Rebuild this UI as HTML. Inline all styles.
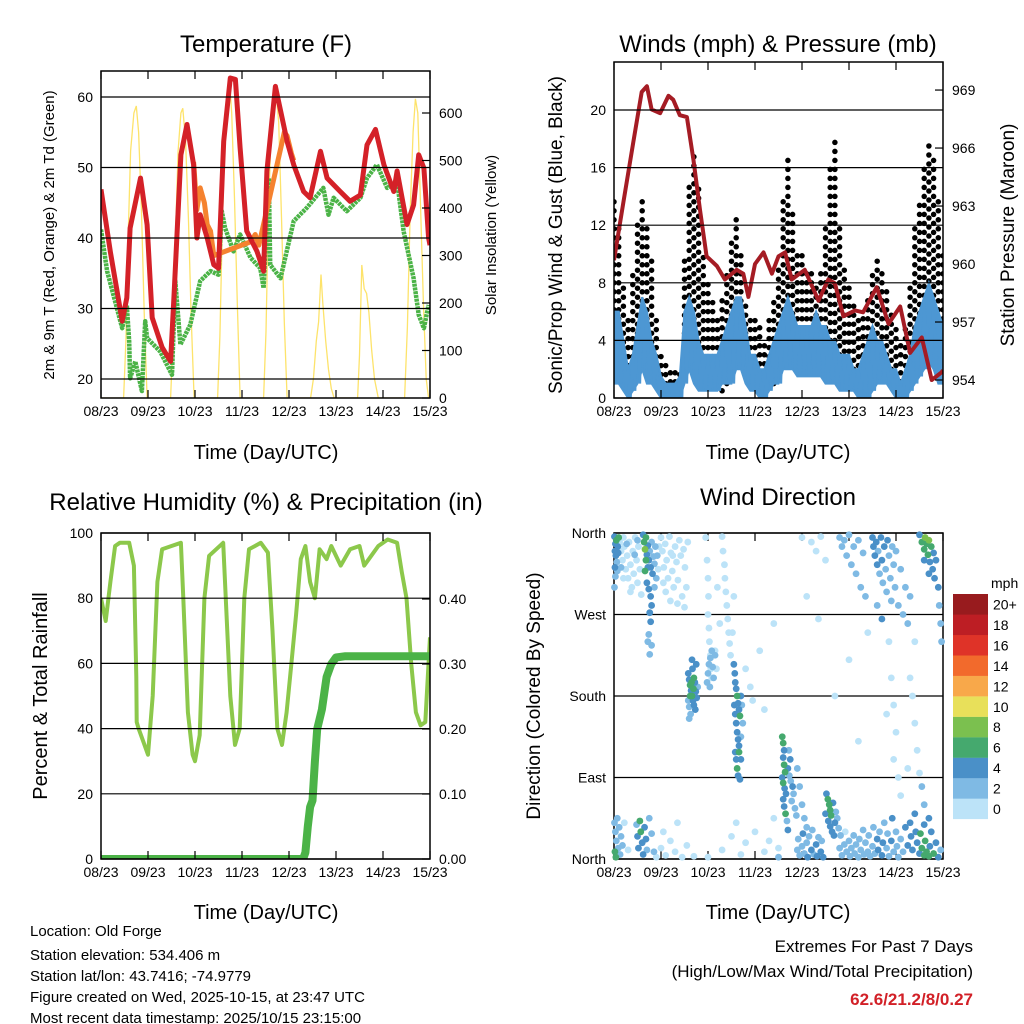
<!DOCTYPE html>
<html><head><meta charset="utf-8"><style>
html,body{margin:0;padding:0;background:#fff;}
svg{display:block;font-family:"Liberation Sans",sans-serif;}
</style></head><body>
<svg id="s" width="1024" height="1024" viewBox="0 0 1024 1024" xmlns="http://www.w3.org/2000/svg">
<defs>
<clipPath id="c1"><rect x="101" y="71" width="329" height="327"/></clipPath>
<clipPath id="c2"><rect x="614" y="62" width="329" height="336"/></clipPath>
<clipPath id="c3"><rect x="101" y="533" width="329" height="326"/></clipPath>
<clipPath id="c4"><rect x="611" y="527" width="335" height="338"/></clipPath>
</defs>
<text x="266" y="52" font-size="24" text-anchor="middle">Temperature (F)</text>
<text x="778" y="52" font-size="24" text-anchor="middle">Winds (mph) &amp; Pressure (mb)</text>
<text x="266" y="510" font-size="24" text-anchor="middle">Relative Humidity (%) &amp; Precipitation (in)</text>
<text x="778" y="505" font-size="24" text-anchor="middle">Wind Direction</text>
<text transform="translate(54,235) rotate(-90)" font-size="15" text-anchor="middle">2m &amp; 9m T (Red, Orange) &amp; 2m Td (Green)</text>
<text transform="translate(496,235) rotate(-90)" font-size="15" text-anchor="middle">Solar Insolation (Yellow)</text>
<text transform="translate(562,235) rotate(-90)" font-size="19" text-anchor="middle">Sonic/Prop Wind &amp; Gust (Blue, Black)</text>
<text transform="translate(1014,235) rotate(-90)" font-size="19" text-anchor="middle">Station Pressure (Maroon)</text>
<text transform="translate(47,696) rotate(-90)" font-size="20" text-anchor="middle">Percent &amp; Total Rainfall</text>
<text transform="translate(540,696) rotate(-90)" font-size="19" text-anchor="middle">Direction (Colored By Speed)</text>
<text x="266" y="459" font-size="20" text-anchor="middle">Time (Day/UTC)</text>
<text x="778" y="459" font-size="20" text-anchor="middle">Time (Day/UTC)</text>
<text x="266" y="919" font-size="20" text-anchor="middle">Time (Day/UTC)</text>
<text x="778" y="919" font-size="20" text-anchor="middle">Time (Day/UTC)</text>
<g font-size="15">
<text x="30" y="936">Location: Old Forge</text>
<text x="30" y="960">Station elevation: 534.406 m</text>
<text x="30" y="981">Station lat/lon: 43.7416; -74.9779</text>
<text x="30" y="1002">Figure created on Wed, 2025-10-15, at 23:47 UTC</text>
<text x="30" y="1023">Most recent data timestamp: 2025/10/15 23:15:00</text>
</g>
<g font-size="17" text-anchor="end">
<text x="973" y="952">Extremes For Past 7 Days</text>
<text x="973" y="977">(High/Low/Max Wind/Total Precipitation)</text>
<text x="973" y="1005" fill="#d22027" font-weight="bold">62.6/21.2/8/0.27</text>
</g>
<g id="root"></g>
</svg>
<script>
// ---------- data ----------
const dayLabels=["08/23","09/23","10/23","11/23","12/23","13/23","14/23","15/23"];
const tempTicks=[20,30,40,50,60];
const solarTicks=[0,100,200,300,400,500,600];
const windTicks=[0,4,8,12,16,20];
const pressTicks=[954,957,960,963,966,969];
const rhTicks=[0,20,40,60,80,100];
const rainTicks=[0.00,0.10,0.20,0.30,0.40];
const dirTicks=["North","East","South","West","North"];
const speedBins=["0","2","4","6","8","10","12","14","16","18","20+"];
const speedColors=["#bce3f8","#7fbae4","#4a90c8","#45a96e","#7bc04f","#e8e05a","#f8a84a","#f26a2c","#df3328","#bd1e24","#981b1e"];

const redT=[0,0.2,0.45,0.55,0.6,0.62,0.84,0.98,1.09,1.3,1.48,1.55,1.7,1.83,1.97,2.04,2.11,2.26,2.4,2.5,2.61,2.75,2.86,2.96,3.1,3.32,3.46,3.53,3.71,3.96,4.1,4.31,4.45,4.67,4.81,5.09,5.3,5.52,5.66,5.84,6.02,6.23,6.3,6.51,6.65,6.76,6.87,6.97,7.0];
const redV=[46.9,38,28.2,31.5,38.6,41.4,48.5,41.9,28.7,24.5,22.5,31.5,51.8,56.1,50.4,40,43.3,40,36.2,35.7,53.7,62.7,62.5,52.8,41,38.1,35.3,49.5,61.5,53.7,50.4,46.6,45.7,52.3,48.5,46.6,45.2,46.1,53.2,55.4,50.4,46.6,49.5,41.9,44.7,51.8,49.9,40,39];
const orangeT=[1.97,2.04,2.11,2.2,2.26,2.33,2.4,3.2,3.28,3.36,3.9,3.96,4.05,4.1];
const orangeV=[50.8,44,47.1,45,41.9,41,37.5,39.5,40.5,39,55,54.5,52,51];
const greenT=[0,0.13,0.45,0.55,0.6,0.62,0.73,0.87,0.94,0.98,1.26,1.51,1.58,1.69,1.9,2.11,2.33,2.5,2.57,2.64,2.82,2.96,3.18,3.39,3.46,3.57,3.6,3.82,4.1,4.38,4.73,4.84,4.95,5.23,5.52,5.66,5.87,6.09,6.3,6.44,6.65,6.76,6.87,6.97];
const greenV=[41.2,35.3,27.2,30.5,25.3,20.1,22.5,18.3,28.2,25.8,23.9,20.6,33.9,24.9,27.7,33.9,35.3,34.8,43.8,41.4,38.1,40.5,37.2,35.7,32.9,48.5,36.2,34.3,42.4,44.3,47.1,43.3,45.7,43.8,45.7,48.5,50.4,47.1,48,40.9,34.3,29.1,27.2,30.5];
const solarT=[0,0.48,0.53,0.58,0.63,0.7,0.75,0.8,0.86,0.92,0.98,1.48,1.53,1.58,1.64,1.7,1.74,1.8,1.86,1.92,1.98,2.48,2.53,2.58,2.64,2.7,2.74,2.78,2.84,2.9,2.96,3.46,3.51,3.56,3.62,3.68,3.72,3.78,3.84,3.9,3.96,4.46,4.52,4.58,4.63,4.68,4.72,4.78,4.84,4.9,4.96,5.46,5.5,5.55,5.6,5.65,5.7,5.76,5.82,5.9,6.46,6.52,6.58,6.64,6.69,6.74,6.8,6.86,6.92,6.97];
const solarV=[0,0,120,350,520,600,615,560,400,180,0,0,120,330,520,600,610,540,380,170,0,0,130,360,560,640,660,600,420,200,0,0,140,380,560,640,650,580,380,160,0,0,40,120,160,260,200,120,60,20,0,0,90,280,230,220,180,100,40,0,0,150,400,560,630,600,400,200,40,0];

const pressT=[0,0.2,0.41,0.59,0.7,0.8,0.98,1.16,1.26,1.4,1.55,1.69,1.83,1.97,2.19,2.36,2.61,2.75,2.86,3.0,3.18,3.36,3.5,3.64,3.78,4.06,4.35,4.56,4.7,4.88,5.13,5.3,5.59,5.84,6.09,6.3,6.55,6.76,6.97,7.0];
const pressV=[960.2,963.2,966.3,968.9,969.2,968,967.8,968.7,968.5,967.7,967.6,965.4,962.8,960.4,959.9,959.2,959.7,959.5,958.3,960,960.6,959.5,960.4,960.6,959.2,959.7,958.1,959.2,959,957.3,957.6,957.5,958.8,956.9,957.8,955.4,956.2,954,954.4,954.5];
// wind & gust ranges sampled every 0.1 day
const windLo=[1,1,0.5,0,0.5,1,2,1,1,0.5, 0,0,0,0,0,1,2,1,0.5,0.5, 0.5,0.5,0.5,1,1,1,2,2,1,0.5, 0.5,0,0,0.5,1,1,2,2,2,1.5, 1.5,1.5,1.5,1.5,1.5,1,1,1,0.5,0.5, 0.5,0.5,0,0,0,0.5,1,1,1,0.5, 0,0,0,0.5,1,1.5,2,2.5,2,1, 1];
const windHi=[6,6,4,2,3,5,7,6,4,3, 1.5,1,1,1,1.5,6,7,6,4,3, 3,3,3,4,5,6,7,7,5,3, 3,2,2,3,4,5,6,7,6,5, 5,5,5,6,5,5,4,4,3,3, 3,2,2,3,4,5,4,4,3,2, 2,1,2,3,5,6,7,8,7,6, 5];
const gustLo=[3,3,2,1,1,2,3,3,2,1, 1,1,0.5,0.5,1,2,4,3,2,1, 1,1,1,0.5,1,2,3,3,2,1, 1,0.5,0.5,1,1,2,3,4,4,3, 3,3,3,2,3,3,4,4,3,2, 2,2,1,0.5,0.5,1,2,3,3,2, 1,0.5,1,2,3,4,4,5,4,3, 3];
const gustHi=[14,12,8,6,9,12,14,12,10,6, 3,2.5,2,2,2,10,15,17,15,10, 8,7,6,7,9,11,13,10,7,6, 6,5,4,6,7,9,14,17,13,10, 10,9,9,8,9,12,16,18,12,9, 8,7,6,6,7,9,10,9,8,6, 5,4,5,8,12,14,16,18,17,14, 10];

const rhT=[0,0.1,0.2,0.3,0.4,0.6,0.7,0.75,0.76,0.8,0.9,1.0,1.1,1.2,1.3,1.5,1.7,1.75,1.85,1.95,2.0,2.1,2.2,2.3,2.6,2.75,2.85,2.95,3.05,3.15,3.4,3.55,3.65,3.75,3.85,3.95,4.05,4.15,4.25,4.35,4.45,4.55,4.65,4.8,4.9,5.1,5.3,5.5,5.6,5.7,5.9,6.1,6.3,6.4,6.5,6.6,6.7,6.8,6.9,7.0];
const rhV=[80,73,85,96,97,97,90,56,42,40,36,32,50,85,95,96,97,80,45,32,30,38,80,93,97,50,35,40,80,95,97,94,70,40,35,45,60,75,92,96,85,80,95,92,96,90,95,96,90,92,96,98,97,88,80,60,45,41,42,68];
const rainT=[0,4.3,4.35,4.4,4.45,4.5,4.55,4.6,4.7,4.8,4.9,5.0,5.2,7.0];
const rainV=[0,0,0.01,0.05,0.08,0.09,0.15,0.2,0.23,0.28,0.3,0.31,0.312,0.312];

// wind direction observations: [day, degrees, speed mph]
const dirObs=[
[0.01,356,4],[0.03,348,5],[0.02,340,4],[0.05,352,6],[0.04,335,4],[0.06,328,3],[0.08,345,5],[0.1,355,7],[0.02,322,4],[0.07,318,3],[0.09,338,4],[0.03,312,2],[0.01,300,2],
[0.12,350,1],[0.15,340,1],[0.18,330,1],[0.2,355,1],[0.22,345,1],[0.25,320,1],[0.28,335,1],[0.3,310,1],[0.32,350,1],[0.35,325,1],[0.38,300,1],[0.4,340,1],[0.42,315,1],[0.45,355,1],[0.48,330,1],[0.5,305,1],[0.52,345,1],[0.55,320,1],[0.58,292,1],[0.2,310,1],[0.35,295,1],[0.15,322,3],[0.27,348,3],[0.44,336,3],[0.5,352,3],
[0.62,358,4],[0.64,350,6],[0.66,342,8],[0.68,355,6],[0.7,336,5],[0.72,346,4],[0.74,330,5],[0.76,340,3],[0.78,322,4],[0.8,350,3],[0.82,315,4],[0.84,334,3],[0.86,326,3],[0.88,345,3],[0.9,310,3],[0.92,335,2],[0.66,318,7],[0.7,305,5],[0.74,298,5],[0.78,290,5],[0.8,280,5],[0.76,272,4],[0.78,262,5],[0.74,248,3],[0.8,236,3],[0.76,226,3],[0.72,240,3],[0.86,300,2],[0.94,320,1],[0.96,345,1],[0.68,330,6],[0.72,322,5],
[1.0,355,1],[1.03,340,1],[1.06,322,1],[1.09,348,1],[1.12,330,1],[1.15,310,1],[1.18,356,1],[1.21,338,1],[1.24,318,1],[1.27,300,1],[1.3,345,1],[1.33,328,1],[1.36,308,1],[1.39,352,1],[1.42,335,1],[1.45,290,1],[1.48,342,1],[1.51,322,1],[1.54,300,1],[1.57,350,1],[1.1,295,1],[1.2,285,1],[1.35,282,1],[1.5,278,1],[1.05,305,1],[1.25,335,1],
[1.95,355,1],[1.98,330,1],[2.0,310,1],[2.01,290,1],[2.0,270,1],[2.02,255,1],[2.03,240,1],[2.05,225,1],[2.06,210,1],[2.08,200,1],[2.3,356,1],[2.32,340,1],[2.35,325,1],[2.36,310,1],[2.38,295,1],[2.4,280,1],[2.42,265,1],[2.44,250,1],[2.46,238,1],[2.48,225,1],[2.2,300,1],[2.15,230,1],[2.25,260,1],[2.52,250,1],[2.55,290,1],
[1.58,205,4],[1.6,198,5],[1.62,192,6],[1.64,186,4],[1.66,180,6],[1.68,175,5],[1.7,170,4],[1.6,168,3],[1.63,160,3],[1.67,210,5],[1.7,200,6],[1.72,195,4],[1.74,185,5],[1.76,178,4],[1.65,195,6],[1.69,188,7],[1.73,165,4],[1.62,180,6],[1.58,175,3],[1.78,190,3],[1.75,215,4],[1.66,220,4],[1.6,155,2],
[1.98,195,2],[2.0,205,2],[2.02,215,2],[2.05,222,2],[2.08,230,2],[2.1,212,2],[2.12,200,2],[2.04,190,2],[2.15,225,2],[2.18,210,1],
[2.55,215,4],[2.57,205,4],[2.58,195,5],[2.6,188,4],[2.62,180,6],[2.64,172,5],[2.66,165,4],[2.68,158,6],[2.6,150,4],[2.62,140,4],[2.64,132,5],[2.66,125,4],[2.58,118,4],[2.6,110,5],[2.62,100,6],[2.64,92,4],[2.68,88,4],[2.7,180,4],[2.72,170,3],[2.74,150,3],[2.7,135,3],[2.56,170,5],[2.66,118,7],[2.58,160,4],[2.7,110,4],[2.9,190,1],[2.95,175,1],[2.8,210,1],
[3.58,135,7],[3.6,128,6],[3.62,120,5],[3.6,112,5],[3.62,104,7],[3.64,96,6],[3.58,90,5],[3.6,84,6],[3.63,78,4],[3.66,72,5],[3.6,66,5],[3.62,58,4],[3.65,50,6],[3.7,100,4],[3.73,92,3],[3.76,86,3],[3.8,80,4],[3.82,72,3],[3.78,64,3],[3.85,56,3],[3.88,48,3],[3.75,110,4],[3.72,120,3],[3.9,100,3],[3.95,80,3],[4.0,60,3],[4.05,45,2],[4.1,35,2],[3.68,42,3],[3.7,32,4],
[4.52,72,5],[4.55,66,6],[4.58,60,7],[4.6,54,7],[4.62,48,6],[4.56,42,5],[4.6,36,5],[4.64,30,4],[4.68,26,4],[4.7,40,4],[4.72,52,3],[4.75,45,3],[4.78,34,3],[4.5,50,4],[4.66,62,5],
[3.9,10,2],[3.92,22,3],[3.95,4,2],[4.0,14,3],[4.02,28,4],[4.05,6,3],[4.1,18,3],[4.12,2,4],[4.15,25,2],[4.2,10,4],[4.22,32,3],[4.25,5,3],[4.3,16,4],[4.32,3,5],[4.35,24,3],[4.4,8,4],[4.42,20,3],[4.45,2,4],[4.8,12,2],[4.82,26,2],[4.85,4,2],[4.9,16,2],[4.92,30,1],[4.95,8,2],[5.0,20,2],[5.02,3,2],[5.05,12,2],[5.1,26,2],[5.12,6,2],[5.15,16,3],[5.2,2,3],[5.22,22,3],[5.25,10,3],[5.3,32,2],[5.32,5,3],[5.35,18,3],[5.4,8,3],[5.42,26,3],[5.45,3,3],[5.5,14,3],[5.52,35,2],[5.55,6,3],[5.6,22,4],[5.62,10,4],[5.65,30,3],[5.7,4,4],[5.72,18,4],[5.75,40,3],[5.8,12,3],[5.82,28,3],[5.85,3,3],[5.9,20,4],[5.92,45,4],[5.95,8,3],[6.0,30,3],[6.02,14,3],[6.05,2,3],[6.1,22,3],[6.15,8,3],[6.2,35,4],[6.25,15,4],[6.3,40,4],[6.32,25,5],[6.35,10,4],[6.4,50,4],[6.42,30,5],[6.45,18,5],[6.5,6,4],[6.52,28,6],[6.55,12,7],[6.6,4,6],[6.62,20,7],[6.65,8,7],[6.7,3,6],[6.72,14,5],[6.75,30,4],[6.8,6,6],[6.85,18,4],[6.9,2,4],[6.95,10,3],[6.6,38,5],[6.7,45,4],
[0.01,40,3],[0.03,30,2],[0.05,20,3],[0.07,45,2],[0.09,12,3],[0.11,35,2],[0.13,5,3],[0.02,8,6],[0.04,2,7],[0.15,25,2],[0.18,15,2],[0.22,40,1],[0.3,10,1],[0.48,38,3],[0.5,25,4],[0.52,12,5],[0.55,42,6],[0.57,30,6],[0.6,18,4],[0.62,5,4],[0.65,35,5],[0.68,22,4],[0.7,10,3],[0.75,45,3],[0.8,28,2],[0.85,8,2],[0.9,2,1],[1.0,12,1],[1.05,30,1],[1.1,4,1],[1.2,20,1],[1.3,8,1],[1.35,40,1],[1.45,2,1],[1.55,15,1],[1.7,3,1],[2.0,2,1],[2.3,10,1],[2.5,25,1],[2.6,40,1],[2.7,5,1],[2.8,18,1],[3.0,30,1],[3.2,8,1],[3.3,20,1],[3.4,45,1],[3.5,12,1],[3.5,2,2],
[4.0,355,1],[4.2,350,1],[4.3,340,1],[4.4,356,1],[4.5,330,1],[4.8,355,2],[4.85,345,2],[4.9,352,3],[4.95,335,2],[5.0,358,2],[5.05,325,2],[5.1,345,3],[5.15,315,2],[5.2,352,3],[5.25,300,2],[5.3,338,3],[5.35,290,2],
[5.5,355,4],[5.52,345,4],[5.55,335,5],[5.58,350,4],[5.6,325,4],[5.62,340,3],[5.65,315,3],[5.68,355,5],[5.7,330,4],[5.72,305,3],[5.75,345,4],[5.78,320,3],[5.8,295,3],[5.82,352,4],[5.85,335,3],[5.88,310,3],[5.9,285,2],[5.92,345,3],[5.95,325,3],[5.98,300,2],[6.0,340,3],[6.05,280,2],[6.1,320,2],[6.15,270,2],[6.2,300,2],[6.25,260,2],[6.3,290,2],[5.6,280,3],[5.7,265,4],
[6.5,358,5],[6.55,350,6],[6.6,342,7],[6.62,355,8],[6.65,348,7],[6.68,336,6],[6.7,352,8],[6.72,328,5],[6.75,345,6],[6.78,320,4],[6.8,338,5],[6.82,310,4],[6.85,330,4],[6.9,300,4],[6.92,280,3],[6.95,260,3],[6.97,240,2],[6.6,330,4],[6.7,315,4],
[5.85,240,1],[5.9,200,1],[5.95,170,1],[6.0,140,1],[5.95,110,1],[6.05,90,1],[6.1,70,1],[5.8,160,1],[6.3,200,1],[6.35,180,1],[6.4,150,1],[6.45,120,1],[6.5,95,1],[6.55,80,2],[6.6,60,2],[6.4,240,1],[6.25,100,1],[5.4,250,1],[5.2,130,1],[4.7,180,1],[3.4,260,1],[3.1,230,1],[3.2,165,1],[4.1,290,1],[5.0,220,1],[4.35,265,1]];

// ---------- scales ----------
const xA=t=>101+t*47, xB=t=>614+t*47;
const yT=v=>379-(v-20)*7.05, yS=v=>398-v*0.475;
const yW=v=>398-v*14.4, yP=p=>380-(p-954)*19.33;
const yR=v=>859-v*3.26, yPr=v=>859-v*650;
const yD=d=>859-d*326/360;
const NS="http://www.w3.org/2000/svg";
const root=document.getElementById('root');
function el(tag,attrs,parent){const e=document.createElementNS(NS,tag);for(const k in attrs)e.setAttribute(k,attrs[k]);(parent||root).appendChild(e);return e;}
function pts(ts,vs,fx,fy){return ts.map((t,i)=>fx(t).toFixed(1)+","+fy(vs[i]).toFixed(1)).join(" ");}

function panel(x0,y0,x1,y1,gridVals,gy,leftLabels,rightVals,ry,rightLabels,key){
  const g=el('g',{});
  
  
  gridVals.forEach((v,i)=>{
    const y=gy(v);
    const ln=el('line',{x1:x0,x2:x1,y1:y,y2:y,stroke:"#000","stroke-width":1.2},g);
    
    
    const tx=el('text',{x:x0-8,y:y+5,"font-size":14,"text-anchor":"end"},g);
    tx.textContent=leftLabels[i];
    
    
  });
  if(rightVals){rightVals.forEach((v,i)=>{
    const y=ry(v);
    el('line',{x1:x1-8,x2:x1,y1:y,y2:y,stroke:"#000","stroke-width":1.2},g);
    const tx=el('text',{x:x1+9,y:y+5,"font-size":14},g);
    tx.textContent=rightLabels[i];
    
    
  });}
  dayLabels.forEach((d,i)=>{
    const x=x0+i*47;
    el('line',{x1:x,x2:x,y1:y1,y2:y1-8,stroke:"#000","stroke-width":1.2},g);
    el('line',{x1:x,x2:x,y1:y0,y2:y0+8,stroke:"#000","stroke-width":1.2},g);
    const tx=el('text',{x:x,y:y1+18,"font-size":14,"text-anchor":"middle"},g);
    tx.textContent=d;
    
    
  });
  const r=el('rect',{x:x0,y:y0,width:x1-x0,height:y1-y0,fill:"none",stroke:"#000","stroke-width":1.5},g);
  
  
}

// Panel 1: temperature
const g1=el('g',{"clip-path":"url(#c1)"});


const sol=el('polyline',{points:pts(solarT,solarV,xA,yS),fill:"none",stroke:"#fde36b","stroke-width":1.3},g1);


const gl=el('polyline',{points:pts(greenT,greenV,xA,yT),fill:"none",stroke:"#4bb347","stroke-width":4.5,"stroke-dasharray":"3 0.8","stroke-linejoin":"round"},g1);


const ol=el('polyline',{points:pts(orangeT,orangeV,xA,yT),fill:"none",stroke:"#f5822f","stroke-width":5,"stroke-linejoin":"round"},g1);


const rl=el('polyline',{points:pts(redT,redV,xA,yT),fill:"none",stroke:"#d42128","stroke-width":5,"stroke-linejoin":"round"},g1);


panel(101,71,430,398,tempTicks,yT,tempTicks.map(String),solarTicks,yS,solarTicks.map(String),'temperature');

// Panel 2: winds
const g2=el('g',{"clip-path":"url(#c2)"});


gustHi.forEach((hi,i)=>{
  const t=i*0.1;
  const c=el('line',{x1:xB(t),x2:xB(t),y1:yW(gustLo[i]),y2:yW(hi),stroke:"#000","stroke-width":5.5,"stroke-linecap":"round","stroke-dasharray":"0 9"},g2);
  
  
});
const wT=windHi.map((v,i)=>i*0.1);
const band=wT.map((t,i)=>xB(t).toFixed(1)+","+yW(windHi[i]).toFixed(1)).concat(wT.slice().reverse().map((t,j)=>{const i=wT.length-1-j;return xB(t).toFixed(1)+","+yW(windLo[i]).toFixed(1);})).join(" ");
const wb=el('polygon',{points:band,fill:"#4d97d3",stroke:"#4d97d3","stroke-width":2},g2);


const zz=[];
wT.forEach((t,i)=>{zz.push(xB(t).toFixed(1)+","+yW(windHi[i]).toFixed(1));zz.push(xB(t+0.05).toFixed(1)+","+yW(windLo[i]).toFixed(1));});
const wl=el('polyline',{points:zz.join(" "),fill:"none",stroke:"#4d97d3","stroke-width":2.5},g2);


const pl=el('polyline',{points:pts(pressT,pressV,xB,yP),fill:"none",stroke:"#a51c24","stroke-width":4,"stroke-linejoin":"round"},g2);


panel(614,62,943,398,windTicks,yW,windTicks.map(String),pressTicks,yP,pressTicks.map(String),'winds');

// Panel 3: RH
const g3=el('g',{"clip-path":"url(#c3)"});


const rh=el('polyline',{points:pts(rhT,rhV,xA,yR),fill:"none",stroke:"#8cc84b","stroke-width":4,"stroke-linejoin":"round"},g3);


const rn=el('polyline',{points:pts(rainT,rainV,xA,yPr),fill:"none",stroke:"#4bb347","stroke-width":8,"stroke-linejoin":"round"},g3);


panel(101,533,430,859,rhTicks,yR,rhTicks.map(String),rainTicks,yPr,rainTicks.map(v=>v.toFixed(2)),'humidity');

// Panel 4: wind direction
panel(614,533,943,859,[0,90,180,270,360],yD,dirTicks,null,null,null,'direction');
const g4=el('g',{"clip-path":"url(#c4)"});


const order=dirObs.slice().sort((a,b)=>a[2]-b[2]);
order.forEach(o=>{
  const bin=Math.min(10,Math.floor(o[2]/2));
  const c=el('circle',{cx:xB(o[0]),cy:yD(o[1]),r:3.4,fill:speedColors[bin]},g4);
  
  
});

// colorbar
const cb=el('g',{});


const cbt=el('text',{x:991,y:588,"font-size":14},cb);
cbt.textContent="mph";


speedBins.forEach((lab,i)=>{
  const k=speedBins.length-1-i;
  const y=594+k*20.45;
  const r=el('rect',{x:953,y:y,width:35,height:20.6,fill:speedColors[i]},cb);
  
  
  const t=el('text',{x:993,y:y+15.5,"font-size":14},cb);
  t.textContent=lab;
  
  
});
</script>
</body></html>
